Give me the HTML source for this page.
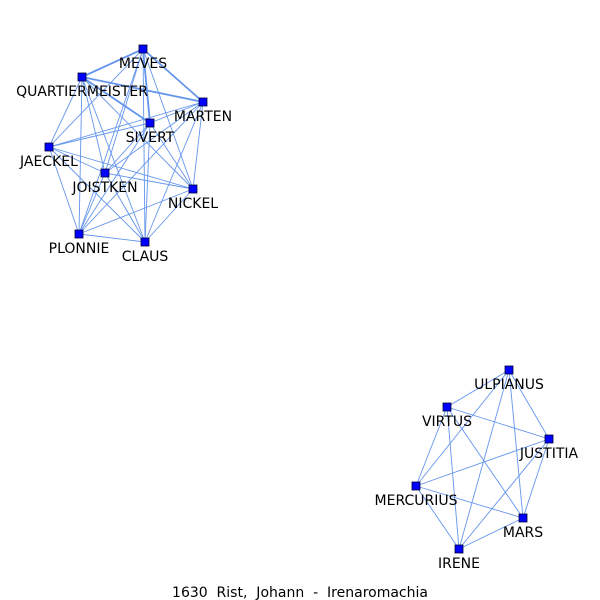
<!DOCTYPE html>
<html><head><meta charset="utf-8">
<style>
html,body{margin:0;padding:0;background:#fff;}
svg{display:block;}
text{font-family:"DejaVu Sans","Liberation Sans",sans-serif;font-size:14px;fill:#000;}
</style></head>
<body>
<svg id="chart" width="600" height="600" viewBox="0 0 600 600">
<g id="edges"></g>
<g id="nodes"></g>
<text x="300" y="597" text-anchor="middle" style="white-space:pre" xml:space="preserve">1630  Rist,  Johann  -  Irenaromachia</text>
</svg>
<script>
const nodeNames = ["MEVES","QUARTIERMEISTER","MARTEN","SIVERT","JAECKEL","JOISTKEN","NICKEL","PLONNIE","CLAUS",
  "ULPIANUS","VIRTUS","JUSTITIA","MERCURIUS","MARS","IRENE"];
const nodeX = [143,82,203,150,49,105,193,79,145, 509,447,549,416,523,459];
const nodeY = [49,77,102,123,147,173,189,234,242, 370,407,439,486,518,549];
const groups = [[0,1,2,3,4,5,6,7,8],[9,10,11,12,13,14]];
const strongEdges = [[0,1],[0,2],[1,2],[1,3],[0,3]];

const NS = "http://www.w3.org/2000/svg";
const eg = document.getElementById("edges");
const ng = document.getElementById("nodes");
function isStrong(a,b){return strongEdges.some(e=>(e[0]===a&&e[1]===b)||(e[0]===b&&e[1]===a));}
groups.forEach(g=>{
  for(let i=0;i<g.length;i++)for(let j=i+1;j<g.length;j++){
    const a=g[i],b=g[j];
    const l=document.createElementNS(NS,"line");
    l.setAttribute("x1",nodeX[a]);l.setAttribute("y1",nodeY[a]);
    l.setAttribute("x2",nodeX[b]);l.setAttribute("y2",nodeY[b]);
    l.setAttribute("stroke","#6495ED");
    l.setAttribute("stroke-width",isStrong(a,b)?1.8:0.9);
    
    
    eg.appendChild(l);
  }
});
nodeNames.forEach((n,i)=>{
  const r=document.createElementNS(NS,"rect");
  r.setAttribute("x",nodeX[i]-4);r.setAttribute("y",nodeY[i]-4);
  r.setAttribute("width",8);r.setAttribute("height",8);
  r.setAttribute("fill","#0000ff");r.setAttribute("stroke","#000033");r.setAttribute("stroke-width",0.8);
  
  
  ng.appendChild(r);
  const t=document.createElementNS(NS,"text");
  t.setAttribute("x",nodeX[i]);t.setAttribute("y",nodeY[i]+19);
  t.setAttribute("text-anchor","middle");
  t.textContent=n;
  
  
  ng.appendChild(t);
});
</script>
</body></html>
